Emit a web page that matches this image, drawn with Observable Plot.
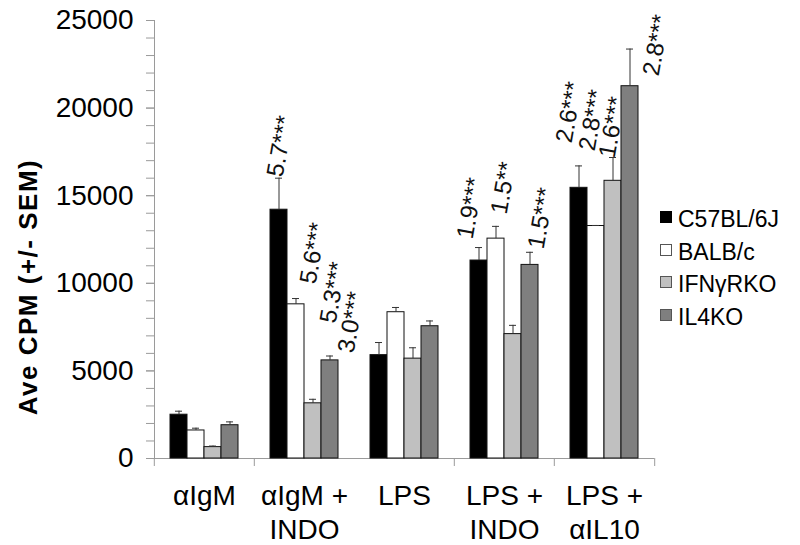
<!DOCTYPE html>
<html><head><meta charset="utf-8">
<script src="https://cdn.jsdelivr.net/npm/d3@7"></script>
<script src="https://cdn.jsdelivr.net/npm/@observablehq/plot@0.6"></script>
<style>
body{margin:0;background:#fff;}
#wrap{position:relative;width:800px;height:545px;font-family:"Liberation Sans",Arial,sans-serif;color:#000;}
#ytitle{position:absolute;left:28px;top:287px;transform:translate(-50%,-50%) rotate(-90deg);white-space:nowrap;font-weight:bold;font-size:26px;letter-spacing:1.5px;}
.leg{position:absolute;left:660px;font-size:23px;line-height:1;}
.leg .sw{position:absolute;left:0;width:10px;height:10px;border:1px solid #555;}
.leg .lb{position:absolute;left:18px;white-space:nowrap;transform:translateY(-50%);}
</style></head><body>
<div id="wrap"><div id="chart"></div><div id="ytitle">Ave CPM (+/- SEM)</div><div id="legend"></div></div>
<script>
// ---- data ----
const groups = ["αIgM", "αIgM +\nINDO", "LPS", "LPS +\nINDO", "LPS +\nαIL10"];
const series = ["C57BL/6J", "BALB/c", "IFNγRKO", "IL4KO"];
const c57BL  = [2500, 14200, 5900, 11300, 15450];
const balbc  = [1600, 8800, 8350, 12550, 13270];
const ifngrko = [650, 3150, 5700, 7100, 15850];
const il4ko  = [1900, 5600, 7550, 11050, 21250];
const c57BLErr  = [200, 1800, 720, 740, 1250];
const balbcErr  = [130, 330, 270, 700, 30];
const ifngrkoErr = [60, 230, 620, 500, 1330];
const il4koErr  = [190, 250, 300, 720, 2120];
const yTicks = [0, 5000, 10000, 15000, 20000, 25000];
// fold-change annotations: group index, series index, text, CPM level of the label's foot
const noteGroup  = [1, 1, 1, 1, 3, 3, 3, 4, 4, 4, 4];
const noteSeries = [0, 1, 2, 3, 0, 1, 3, 0, 1, 2, 3];
const noteText   = ["5.7***", "5.6***", "5.3***", "3.0***", "1.9***", "1.5**", "1.5***", "2.6***", "2.8***", "1.6***", "2.8***"];
const noteAt     = [16100, 9990, 7760, 6050, 12560, 13980, 11990, 18040, 17580, 17180, 21860];
const noteNudge  = [-4, 12, 15, 16, -14, 3, 6, -15, -9, -6, 21];

const fills = ["#000000", "#ffffff", "#c0c0c0", "#7f7f7f"];
const values = [c57BL, balbc, ifngrko, il4ko];
const errs = [c57BLErr, balbcErr, ifngrkoErr, il4koErr];

const rows = [];
groups.forEach((g, gi) => series.forEach((s, si) =>
  rows.push({group: g, series: s, value: values[si][gi], err: errs[si][gi]})));

const W = 800, H = 545, mL = 153, mR = 145, mT = 20, mB = 87;
const facetW = (W - mL - mR) / groups.length;
const axisGray = "#9a9a9a";
const font = "Liberation Sans, Arial, sans-serif";

const noteMarks = noteText.map((t, i) => Plot.text(
  [{group: groups[noteGroup[i]], series: series[noteSeries[i]], at: noteAt[i], text: t}],
  {fx: "group", x: "series", y: "at", text: "text", rotate: -80, textAnchor: "start",
   lineAnchor: "middle", fontSize: 24, fill: "#111", dx: noteNudge[i]}));

const chart = Plot.plot({
  width: W, height: H, marginLeft: mL, marginRight: mR, marginTop: mT, marginBottom: mB,
  style: {fontFamily: font, background: "white", color: "black", overflow: "visible"},
  fx: {domain: groups, padding: 0, label: null},
  x: {domain: series, paddingInner: 0, paddingOuter: 0.789, axis: null, label: null},
  y: {domain: [0, 25000], label: null},
  color: {domain: series, range: fills},
  marks: [
    Plot.frame({anchor: "left", facetAnchor: "left", stroke: axisGray}),
    Plot.ruleY([0], {stroke: axisGray}),
    Plot.axisY({ticks: d3.range(0, 25001, 1000), tickSize: 8, tickFormat: () => "", stroke: axisGray, label: null}),
    Plot.axisY({ticks: yTicks, tickSize: 8, tickPadding: 13, tickFormat: d => String(d),
      fontSize: 28, stroke: axisGray, fill: "black", label: null}),
    Plot.barY(rows, {fx: "group", x: "series", y: "value", fill: "series", stroke: "#111", strokeWidth: 1}),
    Plot.ruleX(rows, {fx: "group", x: "series", y1: "value", y2: d => d.value + d.err, stroke: "#333"}),
    Plot.tickY(rows, {fx: "group", x: "series", y: d => d.value + d.err, stroke: "#333", insetLeft: 5, insetRight: 5}),
    ...noteMarks,
    Plot.axisFx({anchor: "bottom", ticks: groups.filter((g, i) => i !== 2), tickSize: 8, dx: -facetW / 2, tickFormat: () => "", stroke: axisGray, label: null}),
    Plot.axisFx({anchor: "bottom", ticks: [groups[groups.length - 1]], tickSize: 8, dx: facetW / 2, tickFormat: () => "", stroke: axisGray, label: null}),
    Plot.axisFx({anchor: "bottom", tickSize: 0, tickPadding: 23, fontSize: 28, lineHeight: 1.2, fill: "black", label: null})
  ]
});
document.getElementById("chart").appendChild(chart);

// legend
const legendRowY = [219, 252, 284, 317];
const legendBorder = ["#000", "#555", "#555", "#555"];
const leg = document.getElementById("legend");
series.forEach((s, i) => {
  const d = document.createElement("div");
  d.className = "leg";
  d.style.top = legendRowY[i] + "px";
  d.innerHTML = `<div class="sw" style="top:-8px;background:${fills[i]};border-color:${legendBorder[i]}"></div><div class="lb">${s}</div>`;
  leg.appendChild(d);
});
</script>
</body></html>
